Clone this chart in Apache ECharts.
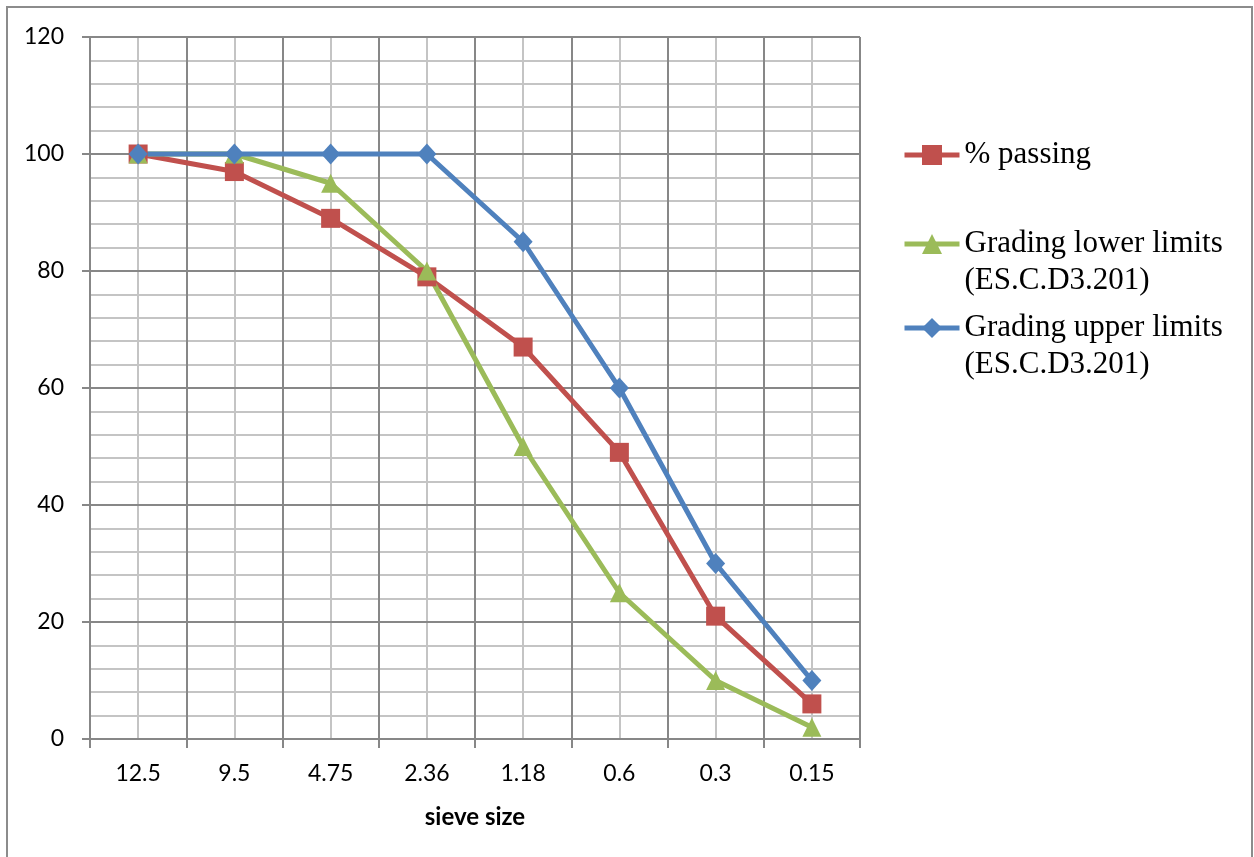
<!DOCTYPE html>
<html>
<head>
<meta charset="utf-8">
<script src="https://cdn.jsdelivr.net/npm/echarts@6/dist/echarts.min.js"></script>
<style>html,body{margin:0;padding:0;background:#fff}#c{width:1254px;height:857px}</style>
</head>
<body>
<div id="c"></div>
<script>
const categories = ['12.5', '9.5', '4.75', '2.36', '1.18', '0.6', '0.3', '0.15'];
const passing = [100, 97, 89, 79, 67, 49, 21, 6];
const lowerLimits = [100, 100, 95, 80, 50, 25, 10, 2];
const upperLimits = [100, 100, 100, 100, 85, 60, 30, 10];
const seriesNames = ['% passing', 'Grading lower limits (ES.C.D3.201)', 'Grading upper limits (ES.C.D3.201)'];
const legendLines = {
  '% passing': '% passing',
  'Grading lower limits (ES.C.D3.201)': '\nGrading lower limits\n(ES.C.D3.201)',
  'Grading upper limits (ES.C.D3.201)': '\nGrading upper limits\n(ES.C.D3.201)'
};

const chart = echarts.init(document.getElementById('c'), null, {renderer: 'canvas'});
const major = '#878787', minor = '#c4c4c4';
const legendFont = 'Liberation Serif';
const LH = 37;
function mkLegend(name, centerY, twoLine) {
  return {
    data: [name], left: 902, top: twoLine ? centerY - 1.5 * LH : centerY - LH / 2,
    orient: 'vertical', itemWidth: 55, itemHeight: 25, itemGap: 0, padding: 0,
    formatter: n => legendLines[n],
    selectedMode: false,
    lineStyle: {width: 5},
    textStyle: {fontFamily: legendFont, fontSize: 31, color: '#000', lineHeight: LH}
  };
}
chart.setOption({
  animation: false,
  graphic: [{type: 'rect', shape: {x: 7, y: 7, width: 1245, height: 900}, style: {fill: 'none', stroke: '#8c8c8c', lineWidth: 2}, z: -10}],
  legend: [
    mkLegend(seriesNames[0], 155, false),
    mkLegend(seriesNames[1], 244, true),
    mkLegend(seriesNames[2], 328, true)
  ],
  grid: {left: 90, right: 394, top: 37, bottom: 118, containLabel: false},
  xAxis: [{
    type: 'category', data: categories, boundaryGap: true,
    name: 'sieve size', nameLocation: 'middle', nameGap: 66,
    nameTextStyle: {fontFamily: 'Lato', fontWeight: 'bold', fontSize: 24, color: '#000'},
    axisLine: {lineStyle: {color: major, width: 2}},
    axisTick: {show: true, alignWithLabel: false, length: 9, lineStyle: {color: major, width: 2}},
    axisLabel: {fontFamily: 'Lato', fontSize: 23, color: '#000', margin: 23},
    splitLine: {show: true, lineStyle: {color: major, width: 2}}
  }, {
    type: 'value', min: 0, max: 8, interval: 1, position: 'bottom',
    axisLine: {show: false}, axisTick: {show: false}, axisLabel: {show: false},
    splitLine: {show: false},
    minorTick: {show: false, splitNumber: 2},
    minorSplitLine: {show: true, lineStyle: {color: minor, width: 2}},
    z: -1
  }],
  yAxis: {
    type: 'value', min: 0, max: 120, interval: 20,
    axisLine: {show: true, lineStyle: {color: major, width: 2}},
    axisTick: {show: true, length: 8, lineStyle: {color: major, width: 2}},
    axisLabel: {fontFamily: 'Lato', fontSize: 23, color: '#000', margin: 26},
    splitLine: {show: true, lineStyle: {color: major, width: 2}},
    minorTick: {show: false, splitNumber: 5},
    minorSplitLine: {show: true, lineStyle: {color: minor, width: 2}}
  },
  series: [{
    name: seriesNames[0], type: 'line', data: passing, xAxisIndex: 0,
    symbol: 'rect', symbolSize: 19, color: '#C0504D',
    lineStyle: {width: 5, color: '#C0504D'}, itemStyle: {color: '#C0504D'}
  }, {
    name: seriesNames[1], type: 'line', data: lowerLimits, xAxisIndex: 0,
    symbol: 'triangle', symbolSize: 19, color: '#9BBB59',
    lineStyle: {width: 5, color: '#9BBB59'}, itemStyle: {color: '#9BBB59'}
  }, {
    name: seriesNames[2], type: 'line', data: upperLimits, xAxisIndex: 0,
    symbol: 'diamond', symbolSize: [19, 21], color: '#4F81BD',
    lineStyle: {width: 5, color: '#4F81BD'}, itemStyle: {color: '#4F81BD'}
  }]
});
</script>
</body>
</html>
